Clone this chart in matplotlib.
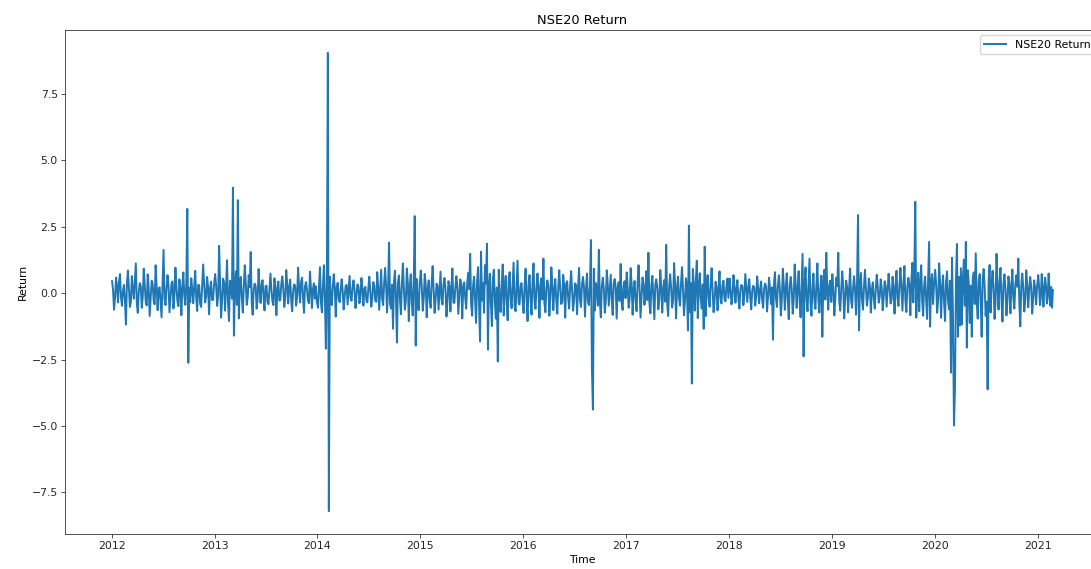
import pandas as pd
import matplotlib
matplotlib.use("Agg")
import matplotlib.pyplot as plt
import matplotlib.dates as mdates
from matplotlib.ticker import MultipleLocator

# NSE20 return, about two readings per week, one list per year
ret_2012 = [0.45, 0.12, -0.62, -0.18, 0.58, 0.24, -0.35, 0.41,
            0.72, -0.15, -0.48, 0.09, 0.31, -0.27, -1.18, 0.36,
            0.85, 0.21, -0.52, -0.33, 0.64, 0.15, -0.21, 0.48,
            1.12, -0.39, -0.74, 0.06, 0.38, 0.27, -0.55, -0.12,
            0.92, 0.33, -0.33, -0.46, 0.71, 0.18, -0.86, -0.21,
            0.47, 0.35, -0.28, -0.42, 1.05, 0.26, -0.64, 0.14,
            0.22, -0.37, -0.91, 0.31, 1.63, -0.22, -0.45, 0.19,
            0.68, 0.29, -0.72, -0.16, 0.35, 0.44, -0.58, -0.08,
            0.96, 0.23, -0.31, -0.49, 0.52, 0.17, -0.83, 0.26,
            0.78, -0.12, -0.44, 0.38, 3.17, -2.62, 0.21, -0.34,
            0.56, 0.13, -0.38, 0.27, 0.84, -0.19, -0.67, 0.32,
            0.29, -0.41, -0.52, 0.24, 1.08, 0.36, -0.35, -0.14,
            0.61, 0.22, -0.79, 0.18, 0.43, -0.25, -0.26, 0.31]
ret_2013 = [0.72, 0.25, -0.48, -0.11, 1.78, 0.34, -0.92, -0.27,
            0.55, 0.41, -0.66, 0.18, 1.24, -0.32, -1.05, 0.47,
            0.38, -0.21, 3.97, -1.60, 0.29, 0.82, -0.44, 3.50,
            -0.95, 0.36, 0.61, -0.18, -0.73, 0.24, 1.05, 0.39,
            -0.44, -0.15, 0.68, 0.22, 1.55, -0.31, -0.81, 0.13,
            0.36, 0.27, -0.58, -0.22, 0.91, 0.17, -0.37, 0.31,
            0.49, -0.12, -0.65, 0.26, 0.28, -0.34, -0.42, 0.19,
            0.74, 0.11, -0.31, -0.45, 0.56, 0.23, -0.83, 0.14,
            0.44, -0.28, -0.26, 0.35, 0.63, 0.16, -0.52, -0.19,
            0.87, 0.32, -0.39, 0.21, 0.51, -0.24, -0.68, 0.09,
            0.33, 0.28, -0.47, -0.13, 0.96, 0.19, -0.35, 0.42,
            0.58, -0.17, -0.74, 0.25, 0.42, 0.14, -0.29, -0.38,
            0.81, 0.22, -0.56, 0.15, 0.37, -0.21, 0.26, -0.33]
ret_2014 = [-0.55, 0.21, 0.98, -0.34, -0.72, 0.27, 1.05, -0.18,
            -2.09, 0.44, 9.04, -8.20, 0.62, -0.13, -0.45, 0.26,
            0.71, 0.18, -0.88, 0.23, 0.39, -0.21, -0.34, 0.16,
            0.52, 0.09, -0.61, -0.14, 0.27, 0.31, -0.43, 0.12,
            0.65, -0.17, -0.29, 0.22, 0.48, 0.13, -0.56, -0.08,
            0.33, 0.24, -0.38, -0.11, 0.57, 0.19, -0.47, 0.15,
            0.24, -0.26, -0.35, 0.18, 0.62, 0.07, -0.51, -0.16,
            0.42, 0.28, -0.28, -0.33, 0.79, 0.21, -0.63, 0.14,
            0.88, -0.22, -0.45, 0.36, 0.95, 0.27, -0.72, 0.18,
            1.90, -0.41, -0.58, 0.32, -1.34, 0.45, 0.84, -0.26,
            -1.86, 0.38, 0.67, -0.21, -0.79, 0.34, 1.12, 0.17,
            -0.62, -0.29, 0.93, 0.41, -1.05, 0.23, 0.71, -0.36,
            -0.84, 0.47, 2.90, -1.97, 0.53, -0.28, -0.64, 0.35]
ret_2015 = [0.85, 0.22, -0.66, -0.19, 0.72, 0.31, -0.91, 0.14,
            0.48, -0.27, -0.55, 0.36, 1.02, 0.18, -0.74, -0.23,
            0.36, 0.29, -0.62, 0.11, 0.81, -0.24, -0.43, 0.33,
            0.57, 0.17, -0.88, -0.31, 0.45, 0.26, -0.69, 0.21,
            0.93, -0.35, -0.37, 0.19, 0.64, 0.28, -0.78, -0.16,
            0.52, 0.34, -0.95, 0.23, 0.41, -0.18, -0.58, 0.37,
            0.76, 0.15, 1.48, -0.42, -0.85, 0.31, 0.62, -0.24,
            -1.12, 0.45, 0.98, -0.37, -1.82, 1.56, -0.28, 0.39,
            -0.74, 1.05, 0.36, 1.86, -2.12, 0.27, 0.73, -0.41,
            -1.24, 0.52, 0.88, -0.33, -0.96, 0.21, -2.57, 0.88,
            -0.46, -0.71, 0.34, 1.08, -0.84, 0.25, 0.65, -0.38,
            -1.02, 0.44, 0.79, -0.22, -0.57, 0.31, 1.15, -0.46,
            -0.68, 0.29, 1.22, -0.35, -0.43, 0.26, 0.38, -0.21]
ret_2016 = [-0.75, 0.28, 0.92, -0.21, -1.05, 0.34, 0.68, -0.17,
            -0.81, 0.39, 1.12, -0.26, -0.59, 0.22, 0.74, 0.13,
            -0.93, 0.31, 0.56, -0.24, 1.30, -0.37, -0.72, 0.18,
            0.48, 0.27, -0.85, -0.19, 0.97, 0.33, -0.64, 0.14,
            0.53, -0.29, -0.77, 0.21, 0.86, 0.16, -0.41, -0.32,
            0.69, 0.24, -0.92, 0.36, 0.45, -0.18, -0.58, 0.27,
            0.83, 0.12, -0.66, -0.23, 0.37, 0.31, -0.79, 0.19,
            0.95, -0.26, -0.52, 0.34, 0.61, 0.21, -0.88, 0.15,
            0.74, -0.33, -0.45, 0.28, 2.00, -2.84, -4.38, 0.92,
            -0.65, 0.38, 0.21, -0.47, 1.63, -0.31, -0.91, 0.26,
            0.58, 0.19, -0.74, -0.28, 0.86, 0.33, -0.47, 0.14,
            0.69, -0.24, -0.82, 0.37, 0.53, 0.22, -0.96, 0.18,
            0.41, -0.29, 1.10, -0.36, -0.63, 0.27, 0.45, -0.19]
ret_2017 = [0.78, 0.23, -0.55, -0.19, 0.94, 0.31, -0.81, 0.17,
            0.46, -0.28, -0.68, 0.34, 1.05, 0.21, -0.92, -0.15,
            0.59, 0.36, -0.44, 0.12, 0.83, -0.26, 1.52, -0.38,
            -0.76, 0.29, 0.65, -0.21, -0.98, 0.33, 0.52, 0.18,
            -0.61, -0.24, 0.87, 0.27, -0.73, 0.14, 0.49, -0.32,
            1.82, -0.41, -0.86, 0.25, 0.71, 0.19, -0.54, -0.27,
            1.13, 0.31, -0.95, 0.22, 0.62, -0.18, -0.47, 0.35,
            0.98, 0.16, -0.83, -0.29, 0.56, 0.24, -1.40, 2.54,
            -0.72, 0.38, -3.40, 0.91, 0.27, -0.66, 0.43, 1.22,
            -0.94, 0.28, 0.75, -0.21, -0.58, 0.33, -1.34, 1.75,
            -0.86, 0.26, 0.68, -0.19, -0.51, 0.32, 0.94, 0.15,
            -0.72, -0.27, 0.43, 0.21, -0.65, 0.18, 0.82, -0.24,
            -0.39, 0.29, 0.47, -0.22, -0.31, 0.26, 0.55, -0.18]
ret_2018 = [0.55, 0.14, -0.42, -0.11, 0.68, 0.22, -0.36, 0.17,
            0.49, -0.21, -0.58, 0.13, 0.31, 0.26, -0.45, -0.09,
            0.72, 0.18, -0.33, 0.24, 0.52, -0.16, -0.61, 0.11,
            0.28, 0.21, -0.47, -0.14, 0.63, 0.19, -0.38, 0.12,
            0.44, -0.23, -0.55, 0.16, 0.36, 0.25, -0.69, -0.13,
            0.58, 0.17, -0.41, 0.22, -1.75, 0.34, 0.79, -0.18,
            -0.52, 0.27, 0.67, 0.14, -0.84, -0.21, 0.92, 0.29,
            -0.63, 0.18, 0.75, -0.26, -0.98, 0.33, 0.61, 0.16,
            -0.77, -0.24, 1.08, 0.31, -0.56, 0.19, 0.83, -0.28,
            -0.91, 0.26, 1.48, -2.38, 0.35, 0.97, -0.22, -0.68,
            0.31, 1.30, -0.36, -0.85, 0.24, 0.74, -0.29, -0.59,
            0.33, 1.12, -0.27, -0.73, 0.21, 0.66, -1.64, 0.38,
            0.88, -0.24, 1.52, 0.19, -0.62, 0.28, 0.47, -0.33]
ret_2019 = [0.71, 0.18, -0.84, -0.23, 0.58, 0.26, 1.52, -0.31,
            -0.66, 0.14, 0.82, 0.27, -0.95, -0.19, 0.47, 0.22,
            -0.72, 0.16, 0.93, -0.28, -0.55, 0.21, 0.64, 0.13,
            -0.81, 0.34, 2.94, -1.40, 0.28, 0.76, -0.21, -0.62,
            0.19, 0.88, 0.24, -0.47, -0.16, 0.55, 0.27, -0.73,
            0.12, 0.41, -0.22, -0.58, 0.18, 0.69, 0.23, -0.36,
            -0.14, 0.52, 0.21, -0.64, -0.17, 0.45, 0.26, -0.51,
            0.13, 0.73, 0.22, -0.39, -0.24, 0.62, 0.18, -0.77,
            0.29, 0.84, -0.21, -0.48, 0.33, 0.95, 0.17, -0.66,
            0.36, 1.02, -0.28, -0.71, 0.24, 0.58, 0.31, -0.83,
            0.42, 1.14, -0.35, 0.61, 3.44, -0.92, 0.27, 0.77,
            -0.68, 0.38, 1.05, -0.29, -0.85, 0.31, 0.62, -0.24,
            -0.97, 0.45, 1.93, -1.26, 0.36, 0.72, -0.41, 0.29]
ret_2020 = [0.88, 0.31, -0.74, -0.26, 1.12, 0.38, -0.93, 0.21,
            0.67, -0.34, -1.05, 0.42, 0.82, -0.29, -0.61, 0.47,
            -2.99, 1.33, -0.88, -4.98, -3.62, 0.45, 1.85, -1.64,
            0.61, -1.22, 0.94, -1.18, 0.52, 1.26, -0.47, 1.93,
            -2.05, 0.86, 0.34, -1.12, 0.28, -1.64, 0.57, 0.78,
            -0.41, 1.50, -0.36, -0.96, 0.43, 0.72, -0.29, -1.64,
            0.51, 0.91, 0.26, -0.85, -0.32, -3.62, 0.48, 1.06,
            -0.73, 0.35, 0.84, 0.19, -0.97, -0.31, 1.48, 0.27,
            -0.62, 0.38, 0.95, -0.24, -1.07, 0.33, 0.71, 0.16,
            -0.84, -0.28, 0.63, 0.35, -0.76, 0.21, 0.89, -0.19,
            -0.58, 0.32, 0.67, 0.24, 1.30, -0.36, -1.25, 0.29,
            0.74, 0.18, -0.69, -0.27, 0.86, 0.31, -0.53, 0.14,
            0.61, 0.26, -0.77, -0.22, 0.48, 0.17, -0.42, 0.28]
ret_2021 = [0.68, 0.21, -0.45, -0.16, 0.72, 0.24, -0.51, 0.13, 0.58,
            0.27, -0.39, -0.18, 0.74, 0.19, -0.47, 0.23, -0.55, 0.12]

years = [2012, 2013, 2014, 2015, 2016, 2017, 2018, 2019, 2020, 2021]
year_lists = [ret_2012, ret_2013, ret_2014, ret_2015, ret_2016,
              ret_2017, ret_2018, ret_2019, ret_2020, ret_2021]
last_day = {2021: "2021-02-24"}

parts = []
for yr, vals in zip(years, year_lists):
    idx = pd.date_range(f"{yr}-01-03", last_day.get(yr, f"{yr}-12-30"), periods=len(vals))
    parts.append(pd.Series(vals, index=idx))
df = pd.concat(parts).to_frame("Return")

fs = 7.8
plt.rcParams["font.family"] = "DejaVu Sans"
plt.rcParams["font.size"] = fs

fig = plt.figure(figsize=(10.91, 5.69), dpi=100)
ax = fig.add_axes([0.0596, 0.0615, 0.9486, 0.8858])

ax.plot(df.index, df["Return"], color="#1f77b4", linewidth=1.4, label="NSE20 Return")

ax.xaxis.set_major_locator(mdates.YearLocator())
ax.xaxis.set_major_formatter(mdates.DateFormatter("%Y"))
ax.yaxis.set_major_locator(MultipleLocator(2.5))

ax.set_title("NSE20 Return", fontsize=fs * 1.2, pad=4.3)
ax.set_xlabel("Time", fontsize=fs, labelpad=2.5)
ax.set_ylabel("Return", fontsize=fs, labelpad=2.5)
ax.tick_params(labelsize=fs, length=2.7, width=0.6, pad=2.5, colors="#333333", labelcolor="#262626")
for s in ax.spines.values():
    s.set_linewidth(0.6)
    s.set_color("#333333")

ax.legend(loc="upper right", fontsize=fs, borderaxespad=0.5)

fig.savefig("out.png", dpi=100)
